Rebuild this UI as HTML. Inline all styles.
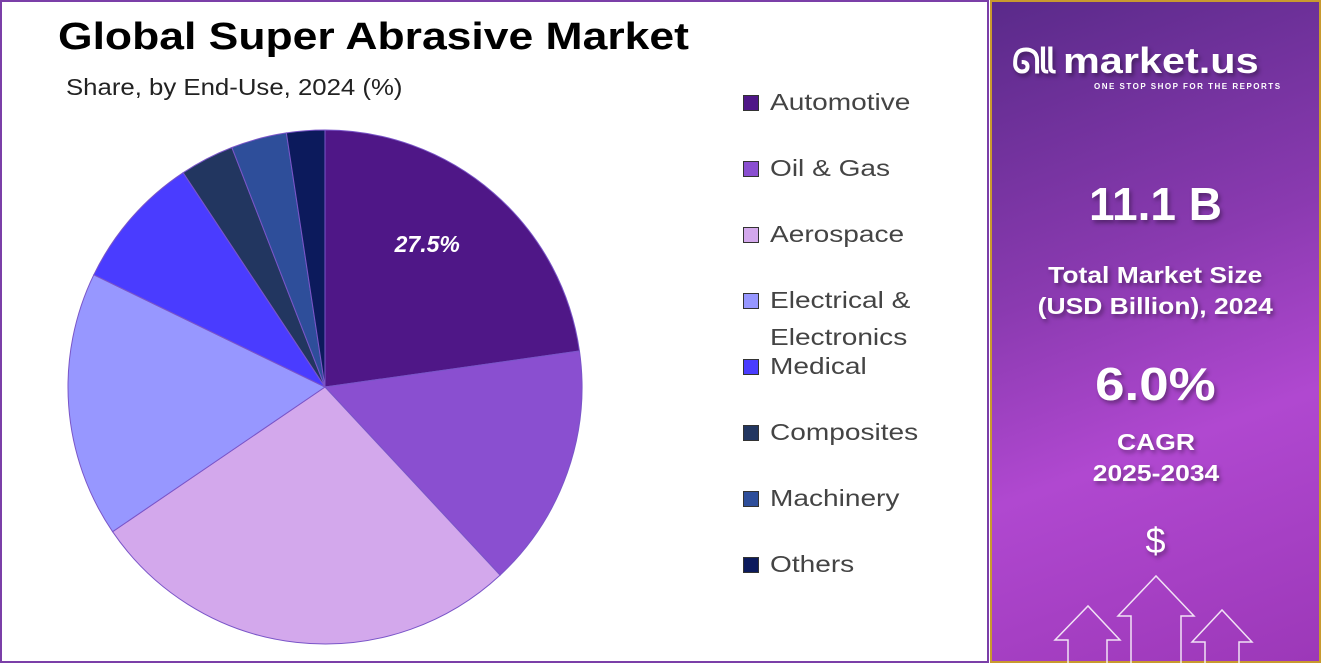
<!DOCTYPE html>
<html><head><meta charset="utf-8"><style>
body{margin:0;width:1321px;height:663px;overflow:hidden;background:#fff;font-family:"Liberation Sans",sans-serif;position:relative}
#main{position:absolute;left:0;top:0;width:985px;height:659px;border:2px solid #7b3fa8;}
#title{position:absolute;left:56px;top:14px;font-size:38px;font-weight:bold;color:#000;transform:scaleX(1.17);transform-origin:0 0;white-space:nowrap}
#sub{position:absolute;left:64px;top:72px;font-size:23px;color:#222;transform:scaleX(1.12);transform-origin:0 0;white-space:nowrap}
.leg{position:absolute;left:741px;font-size:23px;color:#444;line-height:37px}
.leg i{position:absolute;left:0;top:11px;width:16px;height:16px;border:1px solid #333;box-sizing:border-box}
.leg span{position:absolute;left:27px;white-space:nowrap;transform:scaleX(1.22);transform-origin:0 0}
#side{position:absolute;left:990px;top:0;width:331px;height:663px;box-sizing:border-box;border:2px solid #c99a2e;background:linear-gradient(160deg,#5a2a8a 0%,#8a3ab0 40%,#b048d0 65%,#9c38b8 100%);color:#fff;text-align:center}
.big{position:absolute;left:0;width:100%;font-weight:bold;text-shadow:2px 3px 4px rgba(0,0,0,.35)}
.sx{display:inline-block;transform:scaleX(1.15)}
</style></head><body>
<div id="main">
<div id="title">Global Super Abrasive Market</div>
<div id="sub">Share, by End-Use, 2024 (%)</div>
<svg id="pie" width="700" height="663" style="position:absolute;left:-2px;top:-2px"></svg>
<div id="legend"></div>
</div>
<div id="side">
<div class="big" style="top:38px;font-size:36px;left:20px;width:300px;text-align:left"><span style="font-size:34px;letter-spacing:-2px">ᘏ𝗅𝗅</span> <span class="sx" style="transform-origin:0 0">market.us</span><div style="font-size:8px;letter-spacing:1.5px;position:absolute;left:82px;top:42px;text-shadow:none">ONE STOP SHOP FOR THE REPORTS</div></div>
<div class="big" style="top:175px;font-size:46px">11.1 B</div>
<div class="big" style="top:258px;font-size:23px;line-height:31px"><span class="sx">Total Market Size<br>(USD Billion), 2024</span></div>
<div class="big" style="top:355px;font-size:46px"><span class="sx">6.0%</span></div>
<div class="big" style="top:425px;font-size:23px;line-height:31px"><span class="sx">CAGR<br>2025-2034</span></div>
<div class="big" style="top:518px;font-size:36px;font-weight:normal">$</div>
<svg style="position:absolute;left:0;top:560px" width="331" height="103">
<g fill="none" stroke="#fff" stroke-width="1.5" opacity=".85">
<path d="M76 103V78H63L96 44L128 78H115V103"/><path d="M139 103V54H126L164 14L202 54H189V103"/><path d="M213 103V80H200L230 48L260 80H247V103"/></g></svg>
</div>
<script>
const categories=["Automotive","Oil & Gas","Aerospace","Electrical & Electronics","Medical","Composites","Machinery","Others"];
const shares=[22.75,15.3,27.4,16.7,8.5,3.4,3.5,2.4];
const colors=["#4f1787","#8a4fd0","#d3a8ec","#9797ff","#4a3cff","#223660","#2e4e9a","#0c1a5c"];
const labelText=["27.5%"];
const svg=document.getElementById('pie');
const cx=325,cy=387,R=257;
const total=shares.reduce((a,b)=>a+b,0);
function pt(a,r){return [cx+r*Math.sin(a),cy-r*Math.cos(a)];}
let a0=0;
shares.forEach((v,i)=>{
 const a1=a0+v/total*2*Math.PI;
 const p0=pt(a0,R),p1=pt(a1,R);
 const p=document.createElementNS('http://www.w3.org/2000/svg','path');
 p.setAttribute('d',`M${cx},${cy}L${p0[0]},${p0[1]}A${R},${R} 0 ${a1-a0>Math.PI?1:0} 1 ${p1[0]},${p1[1]}Z`);
 p.setAttribute('fill',colors[i]);p.setAttribute('stroke','#7a55c8');p.setAttribute('stroke-width','1');
 
 
 svg.appendChild(p);
 if(i===0){const m=(a0+a1)/2,q=pt(m,R*0.5);
  const t=document.createElementNS('http://www.w3.org/2000/svg','text');
  t.setAttribute('x',q[0]+18);t.setAttribute('y',q[1]-38);t.setAttribute('text-anchor','middle');
  t.setAttribute('fill','#fff');t.setAttribute('font-size','23');t.setAttribute('font-weight','bold');t.setAttribute('font-style','italic');
  t.setAttribute('font-family','Liberation Sans, sans-serif');t.textContent=labelText[0];
  
  
  svg.appendChild(t);}
 a0=a1;
});
const lg=document.getElementById('legend');
const rowsY=[82,148,214,280,346,412,478,544];
categories.forEach((c,i)=>{
 const d=document.createElement('div');d.className='leg';d.style.top=rowsY[i]+'px';
 
 
 d.innerHTML=`<i style="background:${colors[i]}"></i><span>${c==="Electrical & Electronics"?"Electrical &amp;<br>Electronics":c.replace('&','&amp;')}</span>`;
 lg.appendChild(d);
});
</script>
</body></html>
